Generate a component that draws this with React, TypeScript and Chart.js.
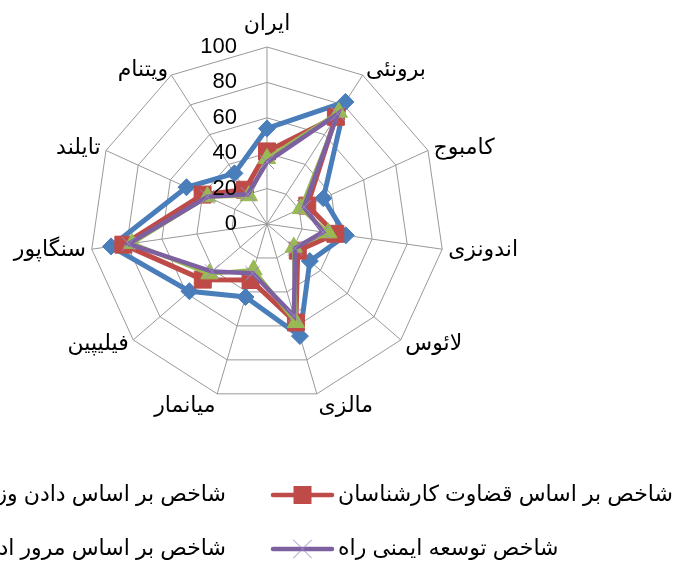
import React, { useEffect, useRef } from 'react';
import { Chart, registerables } from 'chart.js';

Chart.register(...registerables);

const categories = ['ایران', 'برونئی', 'کامبوج', 'اندونزی', 'لائوس', 'مالزی', 'میانمار', 'فیلیپین', 'سنگاپور', 'تایلند', 'ویتنام'];
const tickValues = [0, 20, 40, 60, 80, 100];
const seriesNames = [
  'شاخص بر اساس دادن وزن یکسان به معیارها',
  'شاخص بر اساس قضاوت کارشناسان',
  'شاخص بر اساس مرور ادبیات موضوع',
  'شاخص توسعه ایمنی راه',
];
const equalWeightValues = [54, 82, 35, 45, 32, 66, 43, 58, 89, 50, 34];
const expertValues = [41, 72, 25, 39, 23, 58, 33, 48, 82, 40, 23];
const reviewValues = [37, 75, 21, 35, 20, 58, 27, 43, 77, 37, 19];
const safetyIndexValues = [35, 74, 23, 32, 21, 54, 29, 41, 79, 37, 20];

const FONT = '"Liberation Sans", "DejaVu Sans", Arial, sans-serif';
const COLORS = ['#4a7ebb', '#be4b48', '#98b954', '#7d60a0'];

const sideTicks = {
  id: 'sideTicks',
  afterDatasetsDraw(chart: any) {
    const scale = chart.scales.r;
    const ctx = chart.ctx;
    ctx.save();
    ctx.font = `22px ${FONT}`;
    ctx.fillStyle = '#000';
    ctx.textAlign = 'right';
    ctx.textBaseline = 'middle';
    tickValues.forEach((v) => {
      const d = scale.getDistanceFromCenterForValue(v);
      ctx.fillText(String(v), scale.xCenter - 30, scale.yCenter - d);
    });
    ctx.restore();
  },
};

const outerLabels = {
  id: 'outerLabels',
  afterDraw(chart: any) {
    const scale = chart.scales.r;
    const ctx = chart.ctx;
    const labels = chart.data.labels as string[];
    ctx.save();
    ctx.font = `22px ${FONT}`;
    ctx.fillStyle = '#000';
    ctx.textBaseline = 'middle';
    labels.forEach((lab, i) => {
      const angle = scale.getIndexAngle(i);
      const s = Math.sin(angle);
      const c = Math.cos(angle);
      const pos = scale.getPointPosition(i, scale.drawingArea + 6);
      ctx.textAlign = s > 0.05 ? 'left' : s < -0.05 ? 'right' : 'center';
      let y = pos.y;
      if (c > 0.99) y -= 17;
      else if (c < -0.9) y += 6;
      ctx.fillText(lab, pos.x, y);
    });
    ctx.restore();
  },
};

const gridLegend = {
  id: 'gridLegend',
  afterDraw(chart: any) {
    const ctx = chart.ctx;
    const ds = chart.data.datasets;
    const rowsY = [495, 549];
    const layout = [
      { i: 0, col: 0, row: 0 },
      { i: 1, col: 1, row: 0 },
      { i: 2, col: 0, row: 1 },
      { i: 3, col: 1, row: 1 },
    ];
    ctx.save();
    ctx.font = `22px ${FONT}`;
    ctx.textBaseline = 'middle';
    layout.forEach(({ i, col, row }) => {
      const d = ds[i];
      const y = rowsY[row];
      let lineStart: number;
      let textX: number;
      if (col === 1) {
        lineStart = 273;
        textX = 338;
      } else {
        const w = ctx.measureText(d.label).width;
        textX = 226 - w;
        lineStart = textX - 65;
      }
      const lineEnd = lineStart + 59;
      ctx.strokeStyle = d.borderColor;
      ctx.lineWidth = 4.5;
      ctx.lineCap = 'round';
      ctx.beginPath();
      ctx.moveTo(lineStart, y);
      ctx.lineTo(lineEnd, y);
      ctx.stroke();
      const cx = (lineStart + lineEnd) / 2;
      ctx.fillStyle = d.pointBackgroundColor;
      ctx.strokeStyle = d.pointBorderColor;
      ctx.lineWidth = d.pointBorderWidth;
      ctx.beginPath();
      if (d.pointStyle === 'rect') {
        ctx.rect(cx - 9, y - 9, 18, 18);
        ctx.fill();
      } else if (d.pointStyle === 'crossRot') {
        ctx.moveTo(cx - 9, y - 9);
        ctx.lineTo(cx + 9, y + 9);
        ctx.moveTo(cx + 9, y - 9);
        ctx.lineTo(cx - 9, y + 9);
        ctx.stroke();
      } else if (d.pointStyle === 'rectRot') {
        ctx.moveTo(cx, y - 9);
        ctx.lineTo(cx + 9, y);
        ctx.lineTo(cx, y + 9);
        ctx.lineTo(cx - 9, y);
        ctx.closePath();
        ctx.fill();
      } else {
        ctx.moveTo(cx, y - 9);
        ctx.lineTo(cx + 9, y + 6);
        ctx.lineTo(cx - 9, y + 6);
        ctx.closePath();
        ctx.fill();
      }
      ctx.fillStyle = '#000';
      ctx.textAlign = 'left';
      ctx.fillText(d.label, textX, y);
    });
    ctx.restore();
  },
};

export default function App() {
  const ref = useRef<HTMLCanvasElement | null>(null);

  useEffect(() => {
    if (!ref.current) return;
    const chart = new Chart(ref.current, {
      type: 'radar',
      data: {
        labels: categories,
        datasets: [
          {
            label: seriesNames[0],
            data: equalWeightValues,
            borderColor: COLORS[0],
            backgroundColor: COLORS[0],
            borderWidth: 5,
            pointStyle: 'rectRot',
            pointRadius: 8.5,
            pointBackgroundColor: COLORS[0],
            pointBorderColor: COLORS[0],
            pointBorderWidth: 1,
            fill: false,
            order: 4,
          },
          {
            label: seriesNames[1],
            data: expertValues,
            borderColor: COLORS[1],
            backgroundColor: COLORS[1],
            borderWidth: 5,
            pointStyle: 'rect',
            pointRadius: 12,
            pointBackgroundColor: COLORS[1],
            pointBorderColor: COLORS[1],
            pointBorderWidth: 1,
            fill: false,
            order: 3,
          },
          {
            label: seriesNames[2],
            data: reviewValues,
            borderColor: COLORS[2],
            backgroundColor: COLORS[2],
            borderWidth: 4,
            pointStyle: 'triangle',
            pointRadius: 10,
            pointBackgroundColor: COLORS[2],
            pointBorderColor: COLORS[2],
            pointBorderWidth: 1,
            fill: false,
            order: 2,
          },
          {
            label: seriesNames[3],
            data: safetyIndexValues,
            borderColor: COLORS[3],
            backgroundColor: COLORS[3],
            borderWidth: 4.5,
            pointStyle: 'crossRot',
            pointRadius: 10,
            pointBackgroundColor: COLORS[3],
            pointBorderColor: '#9d87c4',
            pointBorderWidth: 1,
            fill: false,
            order: 1,
          },
        ],
      },
      options: {
        animation: false,
        responsive: false,
        devicePixelRatio: 1,
        layout: { padding: { left: 90, right: 229, top: 47, bottom: 161 } },
        plugins: {
          legend: { display: false },
          tooltip: { enabled: false },
        },
        elements: { line: { tension: 0 } },
        scales: {
          r: {
            min: 0,
            max: 100,
            ticks: { display: false, stepSize: 20 },
            grid: { color: '#999999', lineWidth: 1 },
            angleLines: { color: '#999999', lineWidth: 1 },
            pointLabels: { display: false },
          },
        },
      },
      plugins: [sideTicks, outerLabels, gridLegend],
    });
    return () => chart.destroy();
  }, []);

  return (
    <div style={{ width: 673, height: 562 }}>
      <style>{'body{margin:0}'}</style>
      <canvas ref={ref} width={673} height={562} style={{ display: 'block' }} />
    </div>
  );
}
